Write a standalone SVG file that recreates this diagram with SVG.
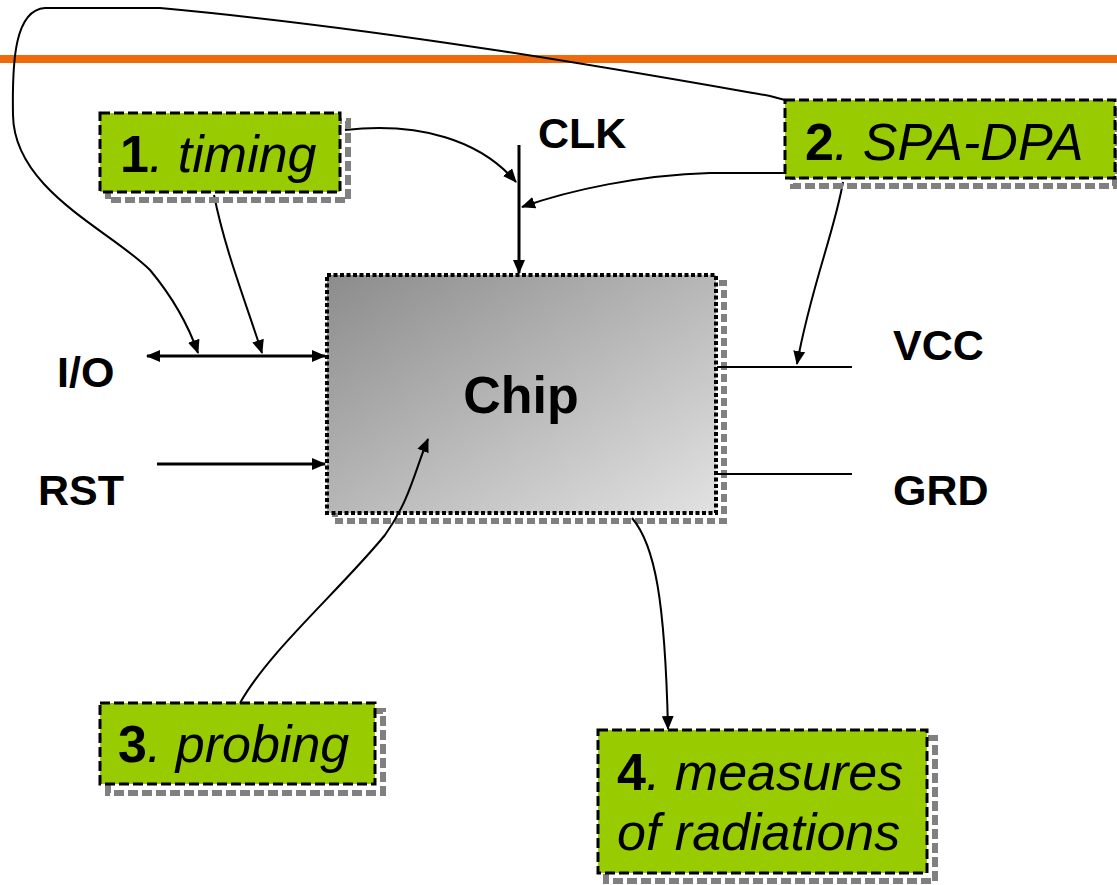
<svg xmlns="http://www.w3.org/2000/svg" width="1117" height="885" viewBox="0 0 1117 885">
<style>
.box{fill:#99CC00;stroke:#000;stroke-width:3;stroke-dasharray:10 4}
.shadow{fill:none;stroke:#808080;stroke-width:6;stroke-dasharray:10 4}
.t{font-family:"Liberation Sans",Arial,sans-serif;font-size:52px;fill:#000}
.b{font-weight:bold}
.i{font-style:italic}
.lbl{font-family:"Liberation Sans",Arial,sans-serif;font-size:43px;font-weight:bold;fill:#000}
.c{fill:none;stroke:#000;stroke-width:2}
.c3{fill:none;stroke:#000;stroke-width:3}
</style>
<defs>
<linearGradient id="chipg" x1="0" y1="0" x2="1" y2="1">
<stop offset="0" stop-color="#8c8c8c"/>
<stop offset="1" stop-color="#e2e2e2"/>
</linearGradient>
<marker id="arr" markerUnits="userSpaceOnUse" markerWidth="14" markerHeight="12" refX="13" refY="6" orient="auto-start-reverse">
<path d="M0 0 L14 6 L0 12 z" fill="#000"/>
</marker>
</defs>
<rect width="1117" height="885" fill="#fff"/>
<line x1="0" y1="59" x2="1117" y2="59" stroke="#EE6A0A" stroke-width="8"/>

<g id="chip">
<rect x="335" y="283" width="389" height="238" fill="none" stroke="#808080" stroke-width="6" stroke-dasharray="8 4"/>
<rect x="327" y="275" width="389" height="238" fill="url(#chipg)" stroke="#000" stroke-width="4" stroke-dasharray="4 2.5"/>
<text class="t b" x="521" y="413" text-anchor="middle">Chip</text>
</g>

<g id="connectors">
<path class="c3" d="M519 145 L519 273" marker-end="url(#arr)"/>
<path class="c3" d="M147 356 L325 356" marker-start="url(#arr)" marker-end="url(#arr)"/>
<path class="c3" d="M157 464 L325 464" marker-end="url(#arr)"/>
<path class="c" d="M717 367 L852 367"/>
<path class="c" d="M717 474 L852 474"/>
<path class="c" d="M345 130 C420 122 480 140 516 182" marker-end="url(#arr)"/>
<path class="c" d="M785 173 L710 173 C640 175 570 190 522 207" marker-end="url(#arr)"/>
<path class="c" d="M785 100 L770 96 C650 75 400 30 160 8 L45 8 C15 10 12 60 13 115 C14 190 110 230 150 270 C175 300 190 330 198 353" marker-end="url(#arr)"/>
<path class="c" d="M214 195 C225 250 245 300 262 353" marker-end="url(#arr)"/>
<path class="c" d="M843 182 C835 230 810 290 797 364" marker-end="url(#arr)"/>
<path class="c" d="M240 703 C270 650 340 590 385 535 C410 500 415 470 428 439" marker-end="url(#arr)"/>
<path class="c" d="M632 518 C655 545 665 600 668 729" marker-end="url(#arr)"/>
</g>

<g id="timing">
<rect class="shadow" x="108" y="121" width="240" height="79"/>
<rect class="box" x="100" y="113" width="240" height="79"/>
<text class="t" x="120" y="172"><tspan class="b">1</tspan><tspan class="i">. timing</tspan></text>
</g>

<g id="spa-dpa">
<rect class="shadow" x="793" y="108" width="322" height="78"/>
<rect class="box" x="785" y="100" width="330" height="78"/>
<text class="t" x="805" y="160"><tspan class="b">2</tspan><tspan class="i">. SPA-DPA</tspan></text>
</g>

<g id="probing">
<rect class="shadow" x="108" y="711" width="275" height="82"/>
<rect class="box" x="100" y="703" width="275" height="81"/>
<text class="t" x="118" y="762"><tspan class="b">3</tspan><tspan class="i">. probing</tspan></text>
</g>

<g id="radiations">
<rect class="shadow" x="606" y="738" width="329" height="143"/>
<rect class="box" x="598" y="730" width="329" height="143"/>
<text class="t" x="617" y="790"><tspan class="b">4</tspan><tspan class="i">. measures</tspan></text>
<text class="t i" x="617" y="850">of radiations</text>
</g>

<g id="labels">
<text class="lbl" x="538" y="148">CLK</text>
<text class="lbl" x="57" y="387">I/O</text>
<text class="lbl" x="38" y="505">RST</text>
<text class="lbl" x="893" y="360">VCC</text>
<text class="lbl" x="893" y="505">GRD</text>
</g>
</svg>
